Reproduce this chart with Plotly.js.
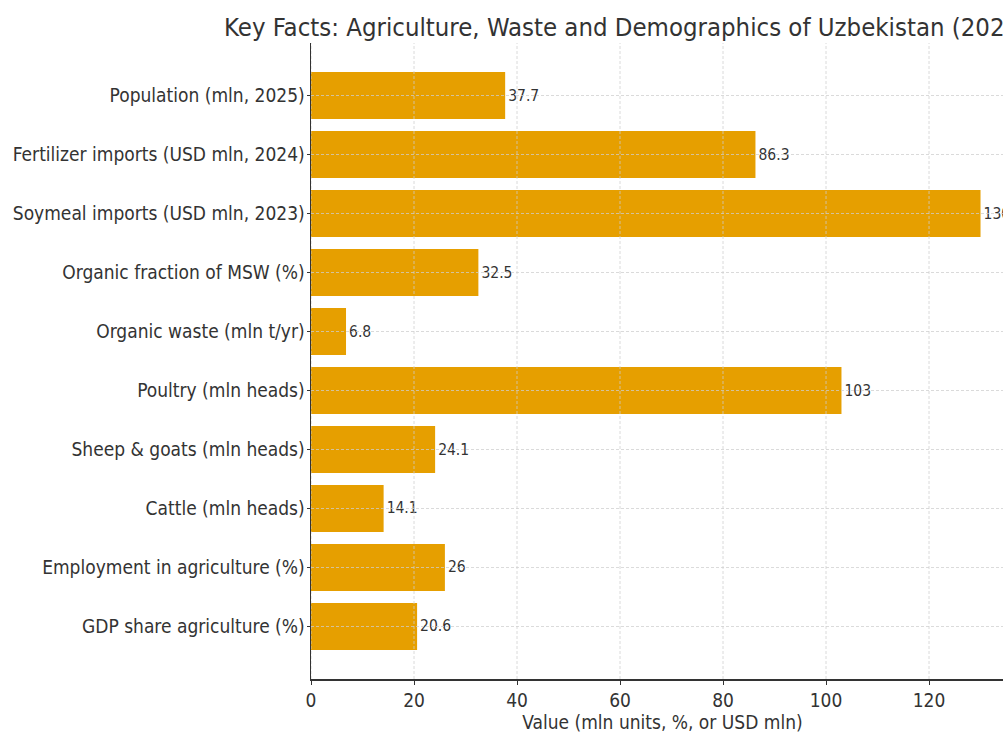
<!DOCTYPE html>
<html>
<head>
<meta charset="utf-8">
<script src="https://cdn.plot.ly/plotly-3.0.1.min.js"></script>
<style>
  html, body { margin: 0; padding: 0; overflow: hidden; background: #fff; }
  #chart { width: 1100px; height: 733px; }
</style>
</head>
<body>
<div id="chart"></div>
<script>
// Indicators listed bottom-to-top so the first one ends up at the bottom of the axis
const categories = [
  "GDP share agriculture (%)",
  "Employment in agriculture (%)",
  "Cattle (mln heads)",
  "Sheep & goats (mln heads)",
  "Poultry (mln heads)",
  "Organic waste (mln t/yr)",
  "Organic fraction of MSW (%)",
  "Soymeal imports (USD mln, 2023)",
  "Fertilizer imports (USD mln, 2024)",
  "Population (mln, 2025)"
];
const values = [20.6, 26, 14.1, 24.1, 103, 6.8, 32.5, 130, 86.3, 37.7];
const xTicks = [0, 20, 40, 60, 80, 100, 120];

const FONT = "'DejaVu Sans Condensed', 'DejaVu Sans', sans-serif";
const INK = "#333333";
const GRID = "rgba(205,205,205,0.75)";

// dashed grid drawn above the bars
const gridShapes = [];
xTicks.forEach(t => gridShapes.push({
  type: "line", layer: "above", xref: "x", yref: "paper",
  x0: t, x1: t, y0: 0, y1: 1,
  line: { color: GRID, width: 1, dash: "3px,2px" }
}));
categories.forEach((c, i) => gridShapes.push({
  type: "line", layer: "above", xref: "paper", yref: "y",
  x0: 0, x1: 1, y0: i, y1: i,
  line: { color: GRID, width: 1, dash: "3px,2px" }
}));

const trace = {
  type: "bar",
  orientation: "h",
  y: categories,
  x: values,
  width: 0.8,
  marker: { color: "#E69F00", line: { width: 0 } },
  text: values.map(v => String(v)),
  textposition: "outside",
  textfont: { family: FONT, size: 15.5, color: INK },
  cliponaxis: false,
  hoverinfo: "x+y"
};

const layout = {
  width: 1100,
  height: 733,
  margin: { l: 311, r: 86, t: 43, b: 54 },
  paper_bgcolor: "#ffffff",
  plot_bgcolor: "#ffffff",
  font: { family: FONT, color: INK },
  showlegend: false,
  title: {
    text: "Key Facts: Agriculture, Waste and Demographics of Uzbekistan (2025)",
    font: { family: FONT, size: 25.5, color: INK },
    x: 224 / 1100, xref: "container", xanchor: "left",
    y: 1, yref: "paper", yanchor: "bottom", pad: { b: 7 }
  },
  xaxis: {
    range: [0, 136.5],
    tickvals: xTicks,
    ticktext: xTicks.map(String),
    showgrid: false,
    zeroline: false,
    showline: true, linecolor: INK, linewidth: 1.5,
    ticks: "outside", ticklen: 4, tickcolor: INK,
    tickfont: { family: FONT, size: 19, color: INK },
    title: { text: "Value (mln units, %, or USD mln)", font: { family: FONT, size: 19, color: INK }, standoff: 4 }
  },
  yaxis: {
    type: "category",
    range: [-0.89, 9.89],
    showgrid: false,
    zeroline: false,
    showline: true, linecolor: INK, linewidth: 1.5,
    ticks: "outside", ticklen: 3, tickcolor: INK,
    ticklabelstandoff: -2,
    tickfont: { family: FONT, size: 19, color: INK },
    automargin: false
  },
  shapes: gridShapes,
  bargap: 0.2
};

Plotly.newPlot("chart", [trace], layout, { displayModeBar: false, staticPlot: true });
</script>
</body>
</html>
